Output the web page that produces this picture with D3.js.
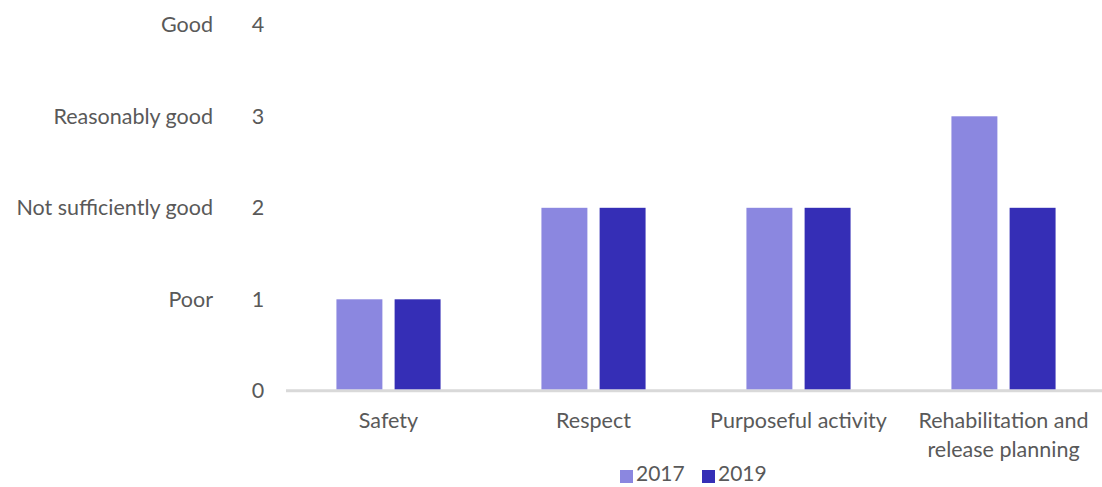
<!DOCTYPE html>
<html><head><meta charset="utf-8">
<script src="https://cdn.jsdelivr.net/npm/d3@7"></script>
<style>body{margin:0;background:#fff}svg{display:block}text{font-family:Lato,"Open Sans",sans-serif;fill:#595959}</style>
</head><body><svg id="c" width="1102" height="487"></svg>
<script>
const categories = ["Safety", "Respect", "Purposeful activity", "Rehabilitation and release planning"];
const categoryLines = [["Safety"], ["Respect"], ["Purposeful activity"], ["Rehabilitation and", "release planning"]];
const seriesNames = ["2017", "2019"];
const values2017 = [1, 2, 2, 3];
const values2019 = [1, 2, 2, 2];
const yTicks = [0, 1, 2, 3, 4];
const yTickNames = ["", "Poor", "Not sufficiently good", "Reasonably good", "Good"];
const colors = ["#8B87E0", "#352EB6"];

const svg = d3.select("#c");
const y = d3.scaleLinear().domain([0, 4]).range([390.8, 24.8]);
const x0 = d3.scaleBand().domain(categories).range([286, 1106]).padding(0);
const bw = x0.bandwidth();
const x1 = d3.scaleBand().domain(seriesNames).range([bw * 0.246, bw * 0.754]).paddingInner(0.21);
const series = [values2017, values2019];
const fs = "21.5px";

// axis line
svg.append("line").attr("x1", 286).attr("x2", 1102).attr("y1", y(0)).attr("y2", y(0))
  .attr("stroke", "#d9d9d9").attr("stroke-width", 3);

// bars
categories.forEach((c, i) => {
  seriesNames.forEach((s, j) => {
    svg.append("rect")
      .attr("x", x0(c) + x1(s))
      .attr("width", x1.bandwidth())
      .attr("y", y(series[j][i]))
      .attr("height", y(0) - y(series[j][i]) - 1.5)
      .attr("fill", colors[j]);
  });
});

// y tick numbers
const yAxis = svg.append("g");
yTicks.forEach((t, i) => {
  yAxis.append("text").attr("x", 258).attr("y", y(t)).attr("dy", "0.35em")
    .attr("text-anchor", "middle").style("font-size", fs).text(t);
  yAxis.append("text").attr("x", 213).attr("y", y(t)).attr("dy", "0.35em")
    .attr("text-anchor", "end").style("font-size", fs).text(yTickNames[i]);
});

// category labels
categories.forEach((c, i) => {
  const t = svg.append("text").attr("x", x0(c) + bw / 2).attr("y", 427.5)
    .attr("text-anchor", "middle").style("font-size", fs);
  categoryLines[i].forEach((l, k) => {
    t.append("tspan").attr("x", x0(c) + bw / 2).attr("dy", k === 0 ? 0 : 29).text(l);
  });
});

// legend
const legendX = [620, 702];
seriesNames.forEach((s, j) => {
  svg.append("rect").attr("x", legendX[j]).attr("y", 470).attr("width", 13).attr("height", 13).attr("fill", colors[j]);
  svg.append("text").attr("x", legendX[j] + 16).attr("y", 474).attr("dy", "0.35em")
    .style("font-size", "21px").text(s);
});
</script></body></html>
